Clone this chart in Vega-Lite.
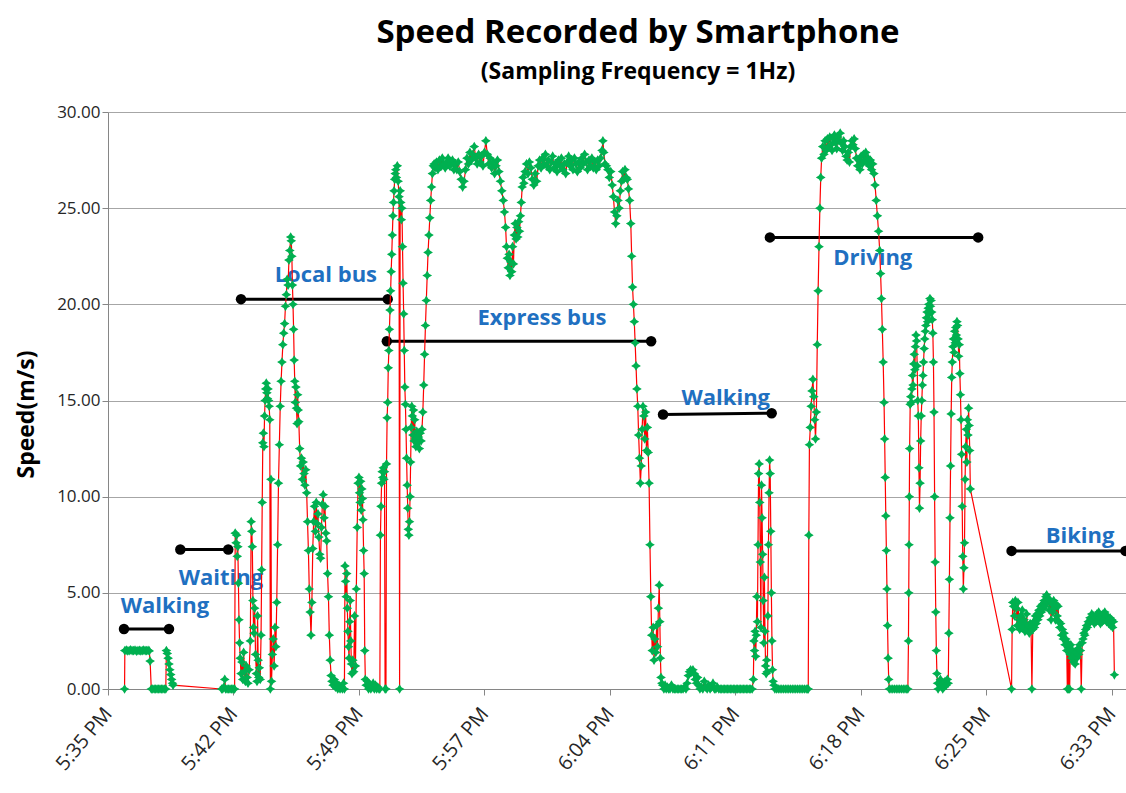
{
  "$schema": "https://vega.github.io/schema/vega-lite/v6.json",
  "width": 1018,
  "height": 577,
  "autosize": {"type": "none"},
  "padding": {"left": 108, "top": 112, "right": 0, "bottom": 104},
  "background": "white",
  "config": {"view": {"stroke": null}, "font": "Open Sans"},
  "title": {
    "text": "Speed Recorded by Smartphone",
    "subtitle": "(Sampling Frequency = 1Hz)",
    "font": "Open Sans", "fontSize": 33, "fontWeight": "bold", "color": "#000000",
    "subtitleFont": "Open Sans", "subtitleFontSize": 23, "subtitleFontWeight": "bold", "subtitleColor": "#000000",
    "anchor": "middle", "frame": "group", "dx": 21, "offset": 19, "subtitlePadding": 11
  },
  "datasets": {
    "ends": [
      {"seg": "W1", "t": 55, "v": 3.12}, {"seg": "W1", "t": 210, "v": 3.12},
      {"seg": "Wt", "t": 249, "v": 7.25}, {"seg": "Wt", "t": 414, "v": 7.25},
      {"seg": "LB", "t": 458, "v": 20.27}, {"seg": "LB", "t": 963, "v": 20.27},
      {"seg": "EB", "t": 960, "v": 18.08}, {"seg": "EB", "t": 1870, "v": 18.08},
      {"seg": "W2", "t": 1911, "v": 14.27}, {"seg": "W2", "t": 2285, "v": 14.34},
      {"seg": "Dr", "t": 2279, "v": 23.48}, {"seg": "Dr", "t": 2996, "v": 23.48},
      {"seg": "Bk", "t": 3111, "v": 7.18}, {"seg": "Bk", "t": 3503, "v": 7.18}
    ],
    "labs": [
      {"label": "Walking", "t": 196, "v": 4.3},
      {"label": "Waiting", "t": 389, "v": 5.76},
      {"label": "Local  bus", "t": 750, "v": 21.5},
      {"label": "Express bus", "t": 1494, "v": 19.3},
      {"label": "Walking", "t": 2127, "v": 15.15},
      {"label": "Driving", "t": 2633, "v": 22.4},
      {"label": "Biking", "t": 3347, "v": 7.93}
    ],
    "speed": [
      {"t":57,"v":0},{"t":58,"v":2.0},{"t":63,"v":2.02},{"t":68,"v":1.98},{"t":73,"v":2.0},{"t":78,"v":2.03},{"t":83,"v":1.99},{"t":88,"v":2.0},{"t":93,"v":2.02},{"t":98,"v":1.97},{"t":103,"v":2.0},{"t":108,"v":2.01},{"t":113,"v":1.98},{"t":118,"v":2.0},{"t":123,"v":2.02},{"t":128,"v":1.99},{"t":133,"v":2.0},{"t":138,"v":2.01},{"t":142,"v":1.98},{"t":145,"v":1.45},{"t":149,"v":0},{"t":154,"v":0},{"t":159,"v":0},{"t":164,"v":0},{"t":169,"v":0},{"t":174,"v":0},{"t":179,"v":0},{"t":184,"v":0},{"t":189,"v":0},{"t":194,"v":0},{"t":199,"v":0},{"t":201,"v":2.0},{"t":204,"v":1.85},{"t":207,"v":1.6},{"t":210,"v":1.3},{"t":213,"v":1.0},{"t":216,"v":0.75},{"t":219,"v":0.5},{"t":222,"v":0.3},{"t":224,"v":0.2},
      {"t":391,"v":0},{"t":395,"v":0},{"t":399,"v":0.1},{"t":402,"v":0.5},{"t":405,"v":0},{"t":410,"v":0},{"t":415,"v":0},{"t":420,"v":0},{"t":425,"v":0},{"t":430,"v":0},{"t":434,"v":0},{"t":436,"v":0},
      {"t":438,"v":8.1},{"t":441,"v":7.6},{"t":443,"v":8.0},{"t":445,"v":6.9},{"t":447,"v":7.4},{"t":449,"v":5.5},{"t":451,"v":3.6},{"t":453,"v":2.4},{"t":455,"v":1.6},{"t":458,"v":0.8},{"t":461,"v":1.4},{"t":464,"v":0.5},{"t":467,"v":1.9},{"t":470,"v":0.9},{"t":473,"v":0.4},{"t":476,"v":1.2},{"t":479,"v":0.6},{"t":482,"v":0.3},{"t":486,"v":1.0},{"t":490,"v":2.5},{"t":493,"v":8.7},{"t":495,"v":8.2},{"t":497,"v":7.4},{"t":499,"v":4.6},{"t":501,"v":3.2},{"t":503,"v":2.9},{"t":505,"v":4.2},{"t":508,"v":1.8},{"t":511,"v":0.8},{"t":513,"v":0.4},{"t":515,"v":3.8},{"t":517,"v":1.5},{"t":519,"v":0.6},{"t":521,"v":1.1},{"t":524,"v":0.5},{"t":527,"v":2.8},{"t":529,"v":6.2},{"t":531,"v":9.7},{"t":533,"v":12.8},{"t":535,"v":13.3},{"t":537,"v":12.6},{"t":539,"v":14.2},{"t":541,"v":15.0},{"t":543,"v":15.6},{"t":545,"v":15.9},{"t":547,"v":15.4},{"t":549,"v":15.1},{"t":551,"v":15.6},{"t":553,"v":15.0},{"t":555,"v":14.7},{"t":557,"v":14.0},{"t":559,"v":0},{"t":561,"v":10.9},{"t":563,"v":0.4},{"t":566,"v":1.8},{"t":569,"v":2.6},{"t":572,"v":1.2},{"t":575,"v":3.2},{"t":578,"v":2.2},{"t":581,"v":4.5},{"t":584,"v":7.5},{"t":587,"v":10.7},{"t":590,"v":12.7},{"t":593,"v":14.7},{"t":596,"v":16.0},{"t":599,"v":17.0},{"t":602,"v":17.9},{"t":605,"v":18.5},{"t":608,"v":19.0},{"t":611,"v":19.9},{"t":614,"v":20.5},{"t":617,"v":21.3},{"t":620,"v":21.0},{"t":623,"v":22.3},{"t":626,"v":22.8},{"t":629,"v":23.5},{"t":631,"v":23.3},{"t":633,"v":22.5},{"t":635,"v":21.0},{"t":637,"v":20.0},{"t":639,"v":18.7},{"t":641,"v":17.1},{"t":643,"v":16.0},{"t":645,"v":14.9},{"t":647,"v":15.7},{"t":649,"v":14.6},{"t":651,"v":13.8},{"t":653,"v":15.3},{"t":655,"v":14.5},{"t":657,"v":13.9},{"t":660,"v":12.5},{"t":663,"v":11.6},{"t":666,"v":12.0},{"t":669,"v":10.9},{"t":672,"v":11.8},{"t":675,"v":11.2},{"t":678,"v":10.6},{"t":681,"v":11.4},{"t":684,"v":10.2},{"t":687,"v":8.7},{"t":690,"v":7.2},{"t":693,"v":5.2},{"t":696,"v":4.0},{"t":699,"v":2.8},{"t":702,"v":4.5},{"t":705,"v":7.3},{"t":708,"v":8.7},{"t":711,"v":9.5},{"t":714,"v":8.2},{"t":717,"v":9.7},{"t":720,"v":8.6},{"t":723,"v":9.1},{"t":726,"v":7.9},{"t":729,"v":7.0},{"t":732,"v":6.8},{"t":735,"v":8.4},{"t":738,"v":9.6},{"t":741,"v":10.1},{"t":744,"v":8.9},{"t":747,"v":9.5},{"t":750,"v":8.1},{"t":753,"v":7.7},{"t":756,"v":6.0},{"t":759,"v":4.8},{"t":762,"v":2.8},{"t":765,"v":1.5},{"t":768,"v":0.7},{"t":771,"v":0.4},{"t":775,"v":0.2},{"t":779,"v":0.5},{"t":783,"v":0.1},{"t":787,"v":0.3},{"t":791,"v":0},{"t":795,"v":0.2},{"t":799,"v":0},{"t":803,"v":0.1},{"t":807,"v":0},{"t":811,"v":0.3},{"t":814,"v":0},{"t":816,"v":6.4},{"t":818,"v":5.6},{"t":820,"v":4.8},{"t":822,"v":6.0},{"t":824,"v":4.2},{"t":826,"v":3.0},{"t":828,"v":2.2},{"t":830,"v":1.6},{"t":832,"v":3.5},{"t":834,"v":4.6},{"t":836,"v":2.5},{"t":838,"v":1.3},{"t":840,"v":0.8},{"t":843,"v":1.5},{"t":846,"v":0.9},{"t":849,"v":3.8},{"t":852,"v":1.2},{"t":855,"v":5.2},{"t":858,"v":8.4},{"t":861,"v":10.7},{"t":864,"v":11.0},{"t":866,"v":10.2},{"t":868,"v":9.7},{"t":870,"v":10.8},{"t":872,"v":9.3},{"t":874,"v":10.4},{"t":876,"v":9.9},{"t":878,"v":8.8},{"t":880,"v":7.2},{"t":882,"v":6.0},{"t":884,"v":2.0},{"t":886,"v":0.5},{"t":889,"v":0.2},{"t":893,"v":0.4},{"t":897,"v":0},{"t":901,"v":0.2},{"t":905,"v":0},{"t":909,"v":0.1},{"t":913,"v":0.3},{"t":917,"v":0},{"t":921,"v":0.2},{"t":925,"v":0},{"t":929,"v":0.1},{"t":933,"v":0},{"t":936,"v":0},{"t":938,"v":8.0},{"t":940,"v":9.5},{"t":942,"v":10.7},{"t":944,"v":11.3},{"t":946,"v":11.0},{"t":948,"v":11.5},{"t":950,"v":10.9},{"t":952,"v":11.3},{"t":954,"v":0},{"t":957,"v":0},{"t":959,"v":11.7},{"t":961,"v":14.1},{"t":963,"v":14.9},{"t":965,"v":16.7},{"t":967,"v":17.6},{"t":969,"v":18.7},{"t":971,"v":19.7},{"t":973,"v":20.7},{"t":975,"v":21.7},{"t":977,"v":22.6},{"t":979,"v":23.6},{"t":981,"v":24.6},{"t":983,"v":25.3},{"t":985,"v":25.9},{"t":987,"v":26.5},{"t":989,"v":26.8},{"t":991,"v":27.0},{"t":993,"v":26.6},{"t":996,"v":27.2},{"t":999,"v":26.4},{"t":1002,"v":25.6},{"t":1004,"v":0},{"t":1006,"v":25.9},{"t":1008,"v":25.3},{"t":1010,"v":24.4},{"t":1012,"v":25.0},{"t":1014,"v":23.0},{"t":1016,"v":21.1},{"t":1018,"v":19.5},{"t":1020,"v":17.6},{"t":1022,"v":15.7},{"t":1024,"v":14.8},{"t":1026,"v":13.5},{"t":1028,"v":12.0},{"t":1030,"v":10.6},{"t":1032,"v":9.4},{"t":1034,"v":8.3},{"t":1036,"v":8.0},{"t":1038,"v":8.7},{"t":1040,"v":10.0},{"t":1042,"v":11.8},{"t":1044,"v":13.6},{"t":1046,"v":14.7},{"t":1048,"v":14.2},{"t":1050,"v":13.2},{"t":1052,"v":14.5},{"t":1054,"v":12.9},{"t":1056,"v":14.0},{"t":1058,"v":13.0},{"t":1060,"v":12.6},{"t":1063,"v":13.4},{"t":1066,"v":12.8},{"t":1069,"v":13.1},{"t":1072,"v":12.5},{"t":1075,"v":13.3},{"t":1078,"v":12.9},{"t":1081,"v":13.5},{"t":1084,"v":14.4},{"t":1087,"v":15.8},{"t":1090,"v":17.4},{"t":1093,"v":18.9},{"t":1096,"v":20.2},{"t":1099,"v":21.5},{"t":1102,"v":22.7},{"t":1105,"v":23.6},{"t":1108,"v":24.5},{"t":1111,"v":25.4},{"t":1114,"v":26.1},{"t":1117,"v":26.8},{"t":1120,"v":27.2},{"t":1123,"v":27.3},
      {"t":1126,"v":27.1},{"t":1131,"v":27.4},{"t":1136,"v":27.0},{"t":1141,"v":27.5},{"t":1146,"v":27.2},{"t":1151,"v":27.6},{"t":1156,"v":27.3},{"t":1161,"v":27.1},{"t":1166,"v":27.4},{"t":1171,"v":27.6},{"t":1176,"v":27.2},{"t":1181,"v":27.3},{"t":1186,"v":27.5},{"t":1191,"v":27.0},{"t":1196,"v":27.3},{"t":1201,"v":27.0},{"t":1206,"v":27.4},{"t":1211,"v":26.9},{"t":1216,"v":26.5},{"t":1221,"v":26.1},{"t":1226,"v":26.4},{"t":1231,"v":27.0},{"t":1236,"v":27.6},{"t":1241,"v":27.3},{"t":1246,"v":27.9},{"t":1251,"v":27.5},{"t":1256,"v":27.8},{"t":1261,"v":28.2},{"t":1266,"v":27.6},{"t":1271,"v":27.3},{"t":1276,"v":27.8},{"t":1281,"v":27.4},{"t":1286,"v":27.7},{"t":1291,"v":27.2},{"t":1296,"v":27.9},{"t":1301,"v":28.5},{"t":1306,"v":27.8},{"t":1311,"v":27.3},{"t":1316,"v":27.6},{"t":1321,"v":27.1},{"t":1326,"v":27.4},{"t":1331,"v":26.8},{"t":1336,"v":27.2},{"t":1341,"v":27.5},{"t":1346,"v":26.9},{"t":1351,"v":26.4},{"t":1356,"v":25.9},
      {"t":1361,"v":25.4},{"t":1365,"v":24.8},{"t":1369,"v":24.0},{"t":1372,"v":23.0},{"t":1375,"v":22.4},{"t":1378,"v":21.9},{"t":1381,"v":22.6},{"t":1384,"v":21.5},{"t":1387,"v":22.2},{"t":1390,"v":21.7},{"t":1393,"v":23.0},{"t":1396,"v":22.1},{"t":1399,"v":23.6},{"t":1402,"v":24.2},{"t":1405,"v":23.4},{"t":1408,"v":24.0},{"t":1411,"v":23.5},{"t":1414,"v":24.3},{"t":1417,"v":23.8},{"t":1420,"v":24.6},{"t":1423,"v":25.3},{"t":1426,"v":26.1},{"t":1429,"v":26.6},{"t":1432,"v":26.3},
      {"t":1436,"v":26.9},{"t":1441,"v":27.3},{"t":1446,"v":26.8},{"t":1451,"v":27.4},{"t":1456,"v":27.1},{"t":1461,"v":26.5},{"t":1466,"v":26.2},{"t":1471,"v":26.8},{"t":1476,"v":26.4},{"t":1481,"v":27.2},{"t":1486,"v":27.5},{"t":1491,"v":27.1},{"t":1496,"v":27.6},{"t":1501,"v":27.3},{"t":1506,"v":27.8},{"t":1511,"v":27.2},{"t":1516,"v":27.5},{"t":1521,"v":27.0},{"t":1526,"v":27.4},{"t":1531,"v":27.7},{"t":1536,"v":27.1},{"t":1541,"v":27.3},{"t":1546,"v":26.9},{"t":1551,"v":27.5},{"t":1556,"v":27.2},{"t":1561,"v":27.6},{"t":1566,"v":27.0},{"t":1571,"v":27.3},{"t":1576,"v":26.8},{"t":1581,"v":27.4},{"t":1586,"v":27.7},{"t":1591,"v":27.2},{"t":1596,"v":27.5},{"t":1601,"v":27.0},{"t":1606,"v":27.6},{"t":1611,"v":27.3},{"t":1616,"v":26.9},{"t":1621,"v":27.4},{"t":1626,"v":27.1},{"t":1631,"v":27.6},{"t":1636,"v":27.3},{"t":1641,"v":27.8},{"t":1646,"v":27.4},{"t":1651,"v":27.0},{"t":1656,"v":27.5},{"t":1661,"v":27.2},{"t":1666,"v":27.6},{"t":1671,"v":27.1},{"t":1676,"v":27.4},{"t":1681,"v":27.0},{"t":1686,"v":27.5},{"t":1691,"v":27.2},{"t":1696,"v":27.6},{"t":1701,"v":28.0},{"t":1704,"v":28.5},{"t":1707,"v":27.9},{"t":1711,"v":27.3},{"t":1716,"v":27.2},
      {"t":1721,"v":27.0},{"t":1726,"v":26.6},{"t":1731,"v":26.9},{"t":1736,"v":26.2},{"t":1740,"v":25.6},{"t":1744,"v":24.8},{"t":1748,"v":24.2},{"t":1752,"v":24.6},{"t":1756,"v":25.4},{"t":1760,"v":25.0},{"t":1764,"v":25.9},{"t":1768,"v":26.4},{"t":1772,"v":26.9},{"t":1776,"v":26.5},{"t":1780,"v":27.0},{"t":1784,"v":26.6},{"t":1788,"v":26.5},{"t":1792,"v":26.0},{"t":1796,"v":25.4},{"t":1800,"v":24.2},{"t":1803,"v":22.5},{"t":1806,"v":20.9},{"t":1809,"v":20.0},{"t":1812,"v":19.1},{"t":1815,"v":18.0},{"t":1818,"v":16.8},{"t":1821,"v":15.6},{"t":1824,"v":14.7},{"t":1827,"v":13.2},{"t":1830,"v":12.0},{"t":1833,"v":10.7},{"t":1836,"v":11.6},{"t":1839,"v":13.5},{"t":1842,"v":14.7},{"t":1845,"v":14.2},{"t":1848,"v":13.0},{"t":1851,"v":14.4},{"t":1854,"v":12.4},{"t":1857,"v":13.6},{"t":1860,"v":12.3},{"t":1863,"v":10.7},{"t":1866,"v":7.5},{"t":1869,"v":4.8},{"t":1872,"v":2.8},{"t":1874,"v":2.0},{"t":1877,"v":3.2},{"t":1880,"v":1.5},{"t":1883,"v":2.6},{"t":1886,"v":1.9},{"t":1889,"v":3.3},{"t":1892,"v":2.2},{"t":1895,"v":4.2},{"t":1898,"v":5.4},{"t":1900,"v":3.5},{"t":1902,"v":1.6},{"t":1904,"v":0.6},{"t":1907,"v":0.3},{"t":1910,"v":0.2},
      {"t":1914,"v":0},{"t":1918,"v":0.2},{"t":1922,"v":0},{"t":1926,"v":0.1},{"t":1930,"v":0},{"t":1935,"v":0},{"t":1940,"v":0.2},{"t":1945,"v":0},{"t":1950,"v":0},{"t":1955,"v":0},{"t":1960,"v":0},{"t":1965,"v":0},{"t":1970,"v":0},{"t":1975,"v":0},{"t":1980,"v":0},{"t":1985,"v":0.1},{"t":1990,"v":0},{"t":1994,"v":0.3},{"t":1998,"v":0.7},{"t":2002,"v":0.9},{"t":2006,"v":1.0},{"t":2010,"v":0.9},{"t":2014,"v":1.0},{"t":2018,"v":0.8},{"t":2022,"v":0.5},{"t":2026,"v":0.3},{"t":2030,"v":0.6},{"t":2034,"v":0.2},{"t":2038,"v":0},{"t":2043,"v":0.1},{"t":2048,"v":0},{"t":2053,"v":0.4},{"t":2058,"v":0.1},{"t":2063,"v":0},{"t":2068,"v":0.2},{"t":2073,"v":0},{"t":2078,"v":0.1},{"t":2083,"v":0.3},{"t":2088,"v":0},{"t":2093,"v":0},{"t":2098,"v":0.1},{"t":2103,"v":0},{"t":2108,"v":0},{"t":2113,"v":0},{"t":2118,"v":0},{"t":2123,"v":0},{"t":2128,"v":0},{"t":2133,"v":0},{"t":2138,"v":0},{"t":2143,"v":0},{"t":2148,"v":0},{"t":2153,"v":0},{"t":2158,"v":0},{"t":2163,"v":0},{"t":2168,"v":0},{"t":2173,"v":0},{"t":2178,"v":0},{"t":2183,"v":0},{"t":2188,"v":0},{"t":2193,"v":0},{"t":2198,"v":0},{"t":2203,"v":0},{"t":2208,"v":0},{"t":2213,"v":0},{"t":2218,"v":0},{"t":2222,"v":0.5},{"t":2224,"v":2.5},{"t":2226,"v":2.0},{"t":2228,"v":3.0},{"t":2230,"v":1.7},{"t":2232,"v":2.8},{"t":2234,"v":4.8},{"t":2236,"v":3.5},{"t":2238,"v":7.5},{"t":2240,"v":11.2},{"t":2242,"v":11.7},{"t":2244,"v":9.7},{"t":2246,"v":6.6},{"t":2248,"v":3.2},{"t":2250,"v":10.6},{"t":2252,"v":8.9},{"t":2254,"v":7.0},{"t":2256,"v":4.6},{"t":2258,"v":2.4},{"t":2260,"v":5.8},{"t":2262,"v":3.0},{"t":2264,"v":1.2},{"t":2266,"v":0.8},{"t":2268,"v":1.5},{"t":2270,"v":0.9},{"t":2272,"v":3.8},{"t":2274,"v":7.5},{"t":2276,"v":10.2},{"t":2278,"v":11.9},{"t":2280,"v":11.2},{"t":2282,"v":8.2},{"t":2284,"v":5.0},{"t":2286,"v":2.5},{"t":2288,"v":1.0},{"t":2290,"v":0.4},{"t":2293,"v":0.2},{"t":2296,"v":0},
      {"t":2302,"v":0},{"t":2308,"v":0},{"t":2314,"v":0},{"t":2320,"v":0},{"t":2326,"v":0},{"t":2332,"v":0},{"t":2338,"v":0},{"t":2344,"v":0},{"t":2350,"v":0},{"t":2356,"v":0},{"t":2362,"v":0},{"t":2368,"v":0},{"t":2374,"v":0},{"t":2380,"v":0},{"t":2386,"v":0},{"t":2392,"v":0},{"t":2398,"v":0},{"t":2404,"v":0},{"t":2409,"v":0},
      {"t":2411,"v":0},{"t":2413,"v":8.0},{"t":2415,"v":12.7},{"t":2418,"v":13.6},{"t":2421,"v":14.7},{"t":2424,"v":15.5},{"t":2427,"v":16.1},{"t":2430,"v":15.2},{"t":2433,"v":14.0},{"t":2436,"v":13.0},{"t":2439,"v":14.4},{"t":2442,"v":17.9},{"t":2445,"v":20.7},{"t":2448,"v":23.0},{"t":2451,"v":25.0},{"t":2454,"v":26.6},{"t":2457,"v":27.6},{"t":2461,"v":28.2},{"t":2465,"v":27.8},{"t":2469,"v":28.5},{"t":2473,"v":28.0},{"t":2477,"v":28.6},{"t":2481,"v":28.2},{"t":2485,"v":28.7},{"t":2489,"v":28.3},{"t":2493,"v":28.0},{"t":2497,"v":28.6},{"t":2501,"v":28.8},{"t":2505,"v":28.4},{"t":2509,"v":28.1},{"t":2513,"v":28.7},{"t":2517,"v":28.5},{"t":2521,"v":28.9},{"t":2525,"v":28.4},{"t":2529,"v":28.0},{"t":2533,"v":28.5},{"t":2537,"v":28.2},{"t":2541,"v":27.7},{"t":2545,"v":27.5},{"t":2549,"v":27.9},{"t":2553,"v":27.4},{"t":2557,"v":28.2},{"t":2561,"v":28.5},{"t":2565,"v":28.3},{"t":2569,"v":28.6},{"t":2573,"v":28.1},{"t":2577,"v":27.6},{"t":2581,"v":27.2},{"t":2585,"v":27.5},{"t":2589,"v":27.0},{"t":2593,"v":27.7},{"t":2597,"v":27.3},{"t":2601,"v":27.8},{"t":2605,"v":27.5},{"t":2609,"v":27.9},{"t":2613,"v":27.4},{"t":2617,"v":27.6},{"t":2621,"v":27.2},{"t":2625,"v":27.5},{"t":2629,"v":27.0},{"t":2633,"v":27.3},{"t":2637,"v":26.8},{"t":2641,"v":26.2},{"t":2645,"v":25.4},{"t":2649,"v":24.6},{"t":2653,"v":23.8},{"t":2657,"v":22.8},{"t":2660,"v":21.6},{"t":2663,"v":20.3},{"t":2666,"v":18.7},{"t":2669,"v":17.0},{"t":2672,"v":14.9},{"t":2674,"v":13.0},{"t":2676,"v":11.0},{"t":2678,"v":9.0},{"t":2680,"v":7.2},{"t":2682,"v":5.2},{"t":2684,"v":3.3},{"t":2686,"v":1.6},{"t":2688,"v":0.5},{"t":2690,"v":0},
      {"t":2696,"v":0},{"t":2702,"v":0},{"t":2708,"v":0},{"t":2714,"v":0},{"t":2720,"v":0},{"t":2726,"v":0},{"t":2732,"v":0},{"t":2738,"v":0},{"t":2744,"v":0},{"t":2750,"v":0},{"t":2754,"v":0},
      {"t":2756,"v":2.5},{"t":2757,"v":5.0},{"t":2758,"v":7.5},{"t":2759,"v":10.0},{"t":2760,"v":12.5},{"t":2762,"v":14.8},{"t":2764,"v":15.2},{"t":2766,"v":14.9},{"t":2768,"v":15.6},{"t":2770,"v":16.3},{"t":2772,"v":15.8},{"t":2774,"v":16.9},{"t":2776,"v":17.4},{"t":2778,"v":16.6},{"t":2780,"v":17.8},{"t":2782,"v":18.4},{"t":2784,"v":18.1},{"t":2786,"v":16.8},{"t":2788,"v":15.0},{"t":2790,"v":14.2},{"t":2792,"v":11.5},{"t":2794,"v":9.4},{"t":2796,"v":10.7},{"t":2798,"v":12.9},{"t":2800,"v":14.2},{"t":2802,"v":15.0},{"t":2804,"v":15.8},{"t":2806,"v":16.3},{"t":2808,"v":17.0},{"t":2810,"v":17.7},{"t":2812,"v":18.2},{"t":2814,"v":18.6},{"t":2816,"v":18.9},{"t":2818,"v":19.3},{"t":2820,"v":19.6},{"t":2822,"v":19.1},{"t":2824,"v":19.8},{"t":2826,"v":20.0},{"t":2828,"v":19.5},{"t":2830,"v":20.3},{"t":2832,"v":19.9},{"t":2834,"v":20.2},{"t":2836,"v":19.6},{"t":2838,"v":19.2},{"t":2840,"v":18.5},{"t":2842,"v":17.0},{"t":2844,"v":14.4},{"t":2846,"v":10.0},{"t":2848,"v":6.6},{"t":2850,"v":4.0},{"t":2852,"v":2.0},{"t":2854,"v":0.8},{"t":2856,"v":0.3},{"t":2858,"v":0},
      {"t":2862,"v":0.3},{"t":2866,"v":0.5},{"t":2870,"v":0.2},{"t":2874,"v":0},{"t":2878,"v":0.1},{"t":2882,"v":0.4},{"t":2886,"v":0.2},{"t":2890,"v":0.5},
      {"t":2893,"v":0.3},{"t":2895,"v":2.9},{"t":2897,"v":5.7},{"t":2899,"v":8.9},{"t":2901,"v":11.6},{"t":2903,"v":14.3},{"t":2905,"v":16.2},{"t":2907,"v":17.0},{"t":2909,"v":17.8},{"t":2911,"v":18.2},{"t":2913,"v":17.5},{"t":2915,"v":18.6},{"t":2917,"v":18.0},{"t":2919,"v":18.8},{"t":2921,"v":18.4},{"t":2923,"v":19.1},{"t":2925,"v":18.9},{"t":2927,"v":18.2},{"t":2929,"v":17.3},{"t":2931,"v":17.9},{"t":2933,"v":16.4},{"t":2935,"v":15.3},{"t":2937,"v":14.0},{"t":2939,"v":12.2},{"t":2941,"v":9.5},{"t":2943,"v":6.9},{"t":2945,"v":5.2},{"t":2947,"v":6.3},{"t":2949,"v":7.6},{"t":2951,"v":10.9},{"t":2953,"v":12.6},{"t":2955,"v":13.5},{"t":2957,"v":11.8},{"t":2959,"v":14.0},{"t":2961,"v":13.2},{"t":2963,"v":14.6},{"t":2965,"v":13.7},{"t":2967,"v":12.4},{"t":2969,"v":10.4},
      {"t":3111,"v":0},{"t":3113,"v":3.1},{"t":3115,"v":4.5},{"t":3118,"v":4.3},{"t":3121,"v":3.8},{"t":3124,"v":4.6},{"t":3127,"v":4.2},{"t":3130,"v":3.3},{"t":3133,"v":4.5},{"t":3136,"v":3.6},{"t":3139,"v":3.1},{"t":3142,"v":3.8},{"t":3145,"v":3.4},{"t":3148,"v":4.1},{"t":3151,"v":3.2},{"t":3154,"v":3.6},{"t":3157,"v":3.0},{"t":3160,"v":3.4},{"t":3163,"v":3.9},{"t":3166,"v":3.1},{"t":3169,"v":3.3},{"t":3172,"v":2.9},{"t":3175,"v":3.4},{"t":3178,"v":3.2},{"t":3181,"v":0},{"t":3184,"v":3.1},{"t":3187,"v":3.5},{"t":3190,"v":3.2},{"t":3193,"v":3.8},{"t":3196,"v":3.4},{"t":3199,"v":3.9},{"t":3202,"v":3.6},{"t":3205,"v":4.1},{"t":3208,"v":3.8},{"t":3211,"v":4.3},{"t":3214,"v":4.0},{"t":3217,"v":4.4},{"t":3220,"v":4.2},{"t":3223,"v":4.6},{"t":3226,"v":4.3},{"t":3229,"v":4.8},{"t":3232,"v":4.9},{"t":3235,"v":4.5},{"t":3238,"v":4.7},{"t":3241,"v":4.1},{"t":3244,"v":4.6},{"t":3247,"v":3.6},{"t":3250,"v":4.4},{"t":3253,"v":4.0},{"t":3256,"v":4.6},{"t":3259,"v":4.2},{"t":3262,"v":3.6},{"t":3265,"v":4.4},{"t":3268,"v":3.8},{"t":3271,"v":4.3},{"t":3274,"v":3.5},{"t":3277,"v":3.2},{"t":3280,"v":3.4},{"t":3283,"v":2.8},{"t":3286,"v":3.1},{"t":3289,"v":2.6},{"t":3292,"v":2.9},{"t":3295,"v":2.3},{"t":3298,"v":2.6},{"t":3301,"v":2.0},{"t":3303,"v":0},{"t":3305,"v":2.4},{"t":3307,"v":0},{"t":3309,"v":2.2},{"t":3311,"v":0},{"t":3313,"v":1.8},{"t":3315,"v":2.3},{"t":3318,"v":1.6},{"t":3321,"v":2.0},{"t":3324,"v":1.4},{"t":3327,"v":1.8},{"t":3330,"v":1.3},{"t":3333,"v":1.9},{"t":3336,"v":1.6},{"t":3339,"v":2.1},{"t":3342,"v":1.8},{"t":3345,"v":2.3},{"t":3348,"v":2.0},{"t":3351,"v":0},{"t":3354,"v":2.4},{"t":3357,"v":2.6},{"t":3360,"v":2.9},{"t":3363,"v":2.8},{"t":3366,"v":3.1},{"t":3369,"v":3.3},{"t":3372,"v":3.2},{"t":3375,"v":3.5},{"t":3378,"v":3.4},{"t":3381,"v":3.7},{"t":3384,"v":3.6},{"t":3387,"v":3.9},{"t":3390,"v":3.6},{"t":3393,"v":3.8},{"t":3396,"v":3.4},{"t":3399,"v":3.7},{"t":3402,"v":3.5},{"t":3405,"v":3.9},{"t":3408,"v":3.6},{"t":3411,"v":4.0},{"t":3414,"v":3.7},{"t":3417,"v":3.4},{"t":3420,"v":3.8},{"t":3423,"v":3.5},{"t":3426,"v":3.9},{"t":3429,"v":3.6},{"t":3432,"v":4.0},{"t":3435,"v":3.8},{"t":3438,"v":3.5},{"t":3441,"v":3.8},{"t":3444,"v":3.6},{"t":3447,"v":3.4},{"t":3450,"v":3.7},{"t":3453,"v":3.3},{"t":3456,"v":3.6},{"t":3459,"v":3.2},{"t":3462,"v":3.5},{"t":3465,"v":0.74}
    ]
  },
  "encoding": {
    "x": {
      "field": "t", "type": "quantitative",
      "scale": {"domain": [0, 3505], "nice": false, "zero": false},
      "axis": {
        "values": [0, 432, 864, 1296, 1728, 2160, 2592, 3024, 3456],
        "labelExpr": "['5:35 PM','5:42 PM','5:49 PM','5:57 PM','6:04 PM','6:11 PM','6:18 PM','6:25 PM','6:33 PM'][round(datum.value/432)]",
        "labelAngle": -50, "labelFont": "Open Sans", "labelFontSize": 20, "labelColor": "#262626",
        "labelPadding": 15, "tickSize": 6, "tickColor": "#868686", "domainColor": "#868686",
        "grid": false, "title": null, "labelOverlap": false
      }
    },
    "y": {
      "field": "v", "type": "quantitative",
      "scale": {"domain": [0, 30], "nice": false, "zero": true},
      "axis": {
        "values": [0, 5, 10, 15, 20, 25, 30], "format": ".2f",
        "labelFont": "Open Sans", "labelFontSize": 17, "labelColor": "#262626", "labelPadding": 2,
        "tickSize": 6, "tickColor": "#868686", "domainColor": "#868686",
        "grid": true, "gridColor": "#a6a6a6", "gridWidth": 1,
        "title": "Speed(m/s)", "titleFont": "Open Sans", "titleFontSize": 23, "titleFontWeight": "bold",
        "titleColor": "#000000", "titleX": -70, "titleY": 302
      }
    }
  },
  "layer": [
    {"data": {"name": "ends"}, "mark": {"type": "line", "color": "#000000", "strokeWidth": 3}, "encoding": {"detail": {"field": "seg"}}},
    {"data": {"name": "ends"}, "mark": {"type": "circle", "color": "#000000", "size": 110, "opacity": 1}},
    {"data": {"name": "labs"}, "mark": {"type": "text", "font": "Open Sans", "fontSize": 22, "fontWeight": "bold", "color": "#1f70c1", "align": "center", "baseline": "middle"}, "encoding": {"text": {"field": "label"}}},
    {"data": {"name": "speed"}, "mark": {"type": "line", "color": "#ff0000", "strokeWidth": 1.2}},
    {"data": {"name": "speed"}, "mark": {"type": "point", "shape": "M0,-1L0.38,-0.38L1,0L0.38,0.38L0,1L-0.38,0.38L-1,0L-0.38,-0.38Z", "filled": true, "color": "#00b050", "size": 95, "opacity": 1}}
  ]
}
